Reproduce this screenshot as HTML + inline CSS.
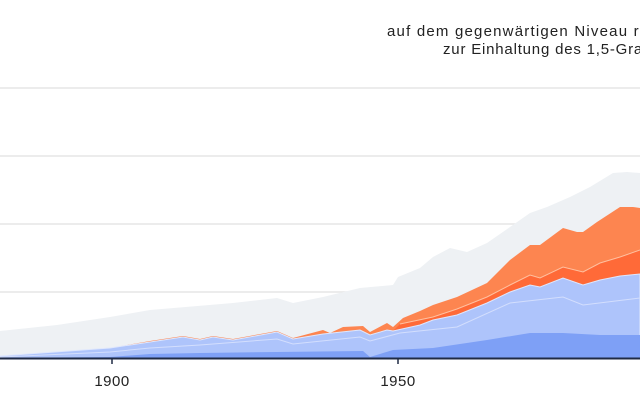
<!DOCTYPE html>
<html><head><meta charset="utf-8"><style>
html,body{margin:0;padding:0;width:640px;height:400px;overflow:hidden;background:#fff;font-family:"Liberation Sans",sans-serif;}
.t{position:absolute;white-space:nowrap;font-size:15px;color:#222}
</style></head><body>
<div class="t" style="left:387px;top:23px;letter-spacing:1.2px">auf dem gegenwärtigen Niveau r</div>
<div class="t" style="left:443px;top:41px;letter-spacing:0.8px">zur Einhaltung des 1,5-Gra</div>
<svg width="640" height="400" style="position:absolute;left:0;top:0">
<g stroke="#e6e6e6" stroke-width="1.5">
<line x1="0" y1="88" x2="640" y2="88"/><line x1="0" y1="156" x2="640" y2="156"/>
<line x1="0" y1="224" x2="640" y2="224"/><line x1="0" y1="292" x2="640" y2="292"/>
</g>
<polygon fill="#eef1f4" points="0,358 0,331 57,325 110,317 150,310 233,303 277,298 293,303 323,297 360,288 393,285 398,277 420,268 433,257 450,248 467,252 487,243 510,227 530,213 547,207 570,197 590,187 613,173 627,172 640,173 640,358"/>
<polygon fill="#fd8550" points="0,358 0,356 110,348 150,341 183,336 200,339 213,336 233,339 277,331 293,338 323,330 330,333 343,327 363,326 370,332 387,323 393,327 403,318 420,311 433,305 457,297 487,283 510,260 530,245 540,245 563,228 577,232 583,232 597,222 620,207 633,207 640,208 640,358"/>
<polygon fill="#ff6a38" points="0,358 0,356 110,348 150,342 183,337 200,340 213,337 233,340 277,332 293,339 323,334 360,330 370,335 387,330 393,331 400,324 433,317 457,309 487,297 510,285 530,275 540,278 563,267 583,272 600,263 620,257 640,250 640,358"/>
<polyline fill="none" stroke="#ffc0a0" stroke-width="1" points="400,324 433,317 457,309 487,297 510,285 530,275 540,278 563,267 583,272 600,263 620,257 640,250"/>
<polygon fill="#aec4fb" stroke="#dfe7fd" stroke-width="1" points="0,358 0,356 110,348 150,342 183,337 200,340 213,337 233,340 277,332 293,339 323,334 360,330 370,335 387,330 393,331 420,325 433,320 457,315 487,303 510,292 530,285 540,287 563,278 583,285 600,280 620,276 640,274 640,358"/>
<polyline fill="none" stroke="#d3defd" stroke-width="1" points="0,357 110,352 150,348 200,345 277,339 293,344 360,337 370,341 400,333 457,327 510,303 563,297 583,305 640,298"/>
<polygon fill="#7ea0f6" points="0,358 110,357 150,354 200,353 277,352 363,351 370,357 393,350 433,348 487,340 530,333 563,333 600,335 640,335 640,358"/>
<line x1="0" y1="358.5" x2="640" y2="358.5" stroke="#1f2a44" stroke-width="2"/>
<line x1="112" y1="358" x2="112" y2="364" stroke="#1f2a44" stroke-width="1.5"/>
<line x1="398" y1="358" x2="398" y2="364" stroke="#1f2a44" stroke-width="1.5"/>
<text x="112" y="386" font-size="15" text-anchor="middle" fill="#222" font-family="Liberation Sans, sans-serif" letter-spacing="0.5">1900</text>
<text x="398" y="386" font-size="15" text-anchor="middle" fill="#222" font-family="Liberation Sans, sans-serif" letter-spacing="0.5">1950</text>
</svg>
</body></html>
